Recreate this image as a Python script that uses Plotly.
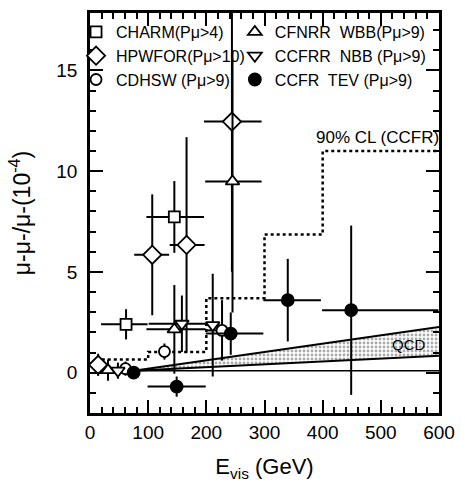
import plotly.graph_objects as go

# ---------------- data ----------------
charm_x = [62, 145]
charm_y = [2.4, 7.73]
charm_ey = [0.75, 1.78]
charm_exm = [43, 48]
charm_exp = [37, 51]

hpw_x = [14, 107, 166, 244]
hpw_y = [0.39, 5.85, 6.34, 12.46]
hpw_ey = [0.55, 3.0, 5.35, 7.45]
hpw_exm = [6, 31, 29, 48]
hpw_exp = [6, 29, 31, 51]

cdhsw_x = [61, 128, 227]
cdhsw_y = [0.2, 1.05, 2.1]
cdhsw_ey = [0.35, 0.4, 1.5]
cdhsw_exm = [6, 10, 27]
cdhsw_exp = [6, 10, 23]

wbb_x = [31, 145, 245]
wbb_y = [0.13, 2.15, 9.49]
wbb_ey = [0.53, 2.2, 6.5]
wbb_exm = [6, 48, 47]
wbb_exp = [6, 54, 50]

nbb_x = [48, 158, 211]
nbb_y = [0.1, 2.43, 2.36]
nbb_ey = [0.4, 1.4, 2.55]
nbb_exm = [6, 57, 12]
nbb_exp = [6, 42, 12]

tev_x = [75, 149, 242, 340, 449]
tev_y = [0.0, -0.69, 1.94, 3.6, 3.1]
tev_ey = [0.2, 0.5, 1.05, 2.05, 4.2]
tev_exm = [0, 50, 43, 42, 50]
tev_exp = [0, 50, 56, 57, 150]

cl_x = [10, 100, 200, 300, 400, 600]
cl_y = [0.65, 1.03, 3.7, 6.86, 11.0, 11.0]

qcd_x = [75, 600]
qcd_low = [0.1, 0.84]
qcd_high = [0.1, 2.27]
base_y = [0.1, 0.1]

FONT = "Liberation Sans, Arial, sans-serif"

fig = go.Figure()

# QCD band
fig.add_trace(go.Scatter(x=qcd_x, y=qcd_low, mode="lines",
                         line=dict(color="black", width=2), showlegend=False, hoverinfo="skip"))
fig.add_trace(go.Scatter(x=qcd_x, y=qcd_high, mode="lines", fill="tonexty",
                         fillcolor="rgba(0,0,0,0)",
                         fillpattern=dict(shape=".", fgcolor="#555555", bgcolor="white",
                                          size=4, solidity=0.4),
                         line=dict(color="black", width=2), showlegend=False, hoverinfo="skip"))
fig.add_trace(go.Scatter(x=qcd_x, y=base_y, mode="lines",
                         line=dict(color="black", width=1.5), showlegend=False, hoverinfo="skip"))

# 90% CL
fig.add_trace(go.Scatter(x=cl_x, y=cl_y, mode="lines", line_shape="hv",
                         line=dict(color="black", width=2.5, dash="dot"),
                         showlegend=False, hoverinfo="skip"))


def add_series(name, xs, ys, ey, exm, exp, symbol, fill, legend, size=11):
    fig.add_trace(go.Scatter(
        x=xs, y=ys, mode="markers", name=name, legend=legend,
        marker=dict(symbol=symbol, size=size, color=fill,
                    line=dict(color="black", width=1.8)),
        error_y=dict(type="data", array=ey, color="black", thickness=2, width=0),
        error_x=dict(type="data", array=exp, arrayminus=exm, color="black",
                     thickness=2, width=0),
    ))


add_series("CHARM(Pμ>4)", charm_x, charm_y, charm_ey, charm_exm, charm_exp,
           "square", "white", "legend")
add_series("HPWFOR(Pμ>10)", hpw_x, hpw_y, hpw_ey, hpw_exm, hpw_exp,
           "diamond", "white", "legend", 14)
add_series("CDHSW (Pμ>9)", cdhsw_x, cdhsw_y, cdhsw_ey, cdhsw_exm, cdhsw_exp,
           "circle", "white", "legend")
add_series("CFNRR  WBB(Pμ>9)", wbb_x, wbb_y, wbb_ey, wbb_exm, wbb_exp,
           "triangle-up", "white", "legend2", 12)
add_series("CCFRR  NBB (Pμ>9)", nbb_x, nbb_y, nbb_ey, nbb_exm, nbb_exp,
           "triangle-down", "white", "legend2", 12)
add_series("CCFR  TEV (Pμ>9)", tev_x, tev_y, tev_ey, tev_exm, tev_exp,
           "circle", "black", "legend2", 12)

fig.add_annotation(x=494, y=11.65, text="90% CL (CCFR)", showarrow=False,
                   font=dict(family=FONT, size=17, color="black"))
fig.add_annotation(x=548, y=1.42, text="QCD", showarrow=False,
                   font=dict(family=FONT, size=15, color="black"))

axis_common = dict(
    showgrid=False, zeroline=False, showline=True, linecolor="black", linewidth=2.5,
    mirror="allticks", ticks="inside", ticklen=13, tickwidth=2, tickcolor="black",
    tickfont=dict(family=FONT, size=19, color="black"),
)

fig.update_xaxes(range=[0, 600], tickvals=[0, 100, 200, 300, 400, 500, 600],
                 minor=dict(dtick=20, ticks="inside", ticklen=6, tickwidth=1.8, tickcolor="black"),
                 title=dict(text="E<sub>vis</sub> (GeV)", font=dict(family=FONT, size=22, color="black"),
                            standoff=18),
                 **axis_common)
fig.update_yaxes(range=[-2, 17.85], tickvals=[0, 5, 10, 15],
                 ticklabelstandoff=6,
                 minor=dict(dtick=1, ticks="inside", ticklen=6, tickwidth=1.8, tickcolor="black"),
                 title=dict(text="μ-μ-/μ-(10<sup>-4</sup>)", font=dict(family=FONT, size=23, color="black"),
                            standoff=20),
                 **axis_common)

legend_common = dict(bgcolor="rgba(0,0,0,0)", borderwidth=0, itemwidth=30,
                     font=dict(family=FONT, size=16, color="black"),
                     xanchor="left", yanchor="top", tracegroupgap=0, traceorder="normal")
fig.update_layout(
    width=465, height=486,
    margin=dict(l=90, r=23, t=10, b=73),
    paper_bgcolor="white", plot_bgcolor="white",
    legend=dict(x=-0.04, y=0.995, **legend_common),
    legend2=dict(x=0.415, y=0.995, **legend_common),
    font=dict(family=FONT, color="black"),
)

fig.write_html("out.html", config={"displayModeBar": False},
               post_script="document.body.style.margin='0';")
